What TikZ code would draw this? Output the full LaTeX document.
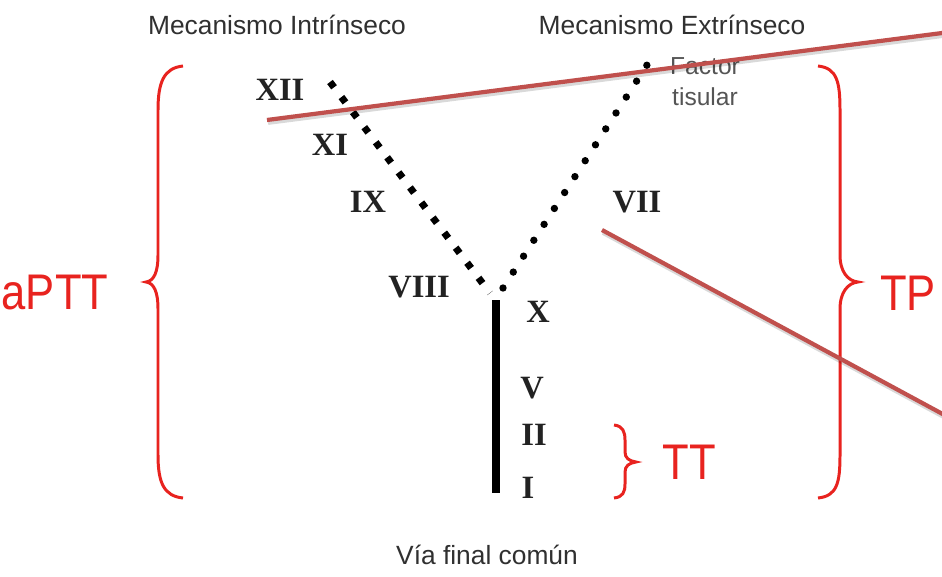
\documentclass[tikz,border=0pt]{standalone}
\usepackage{fontspec}
\setmainfont{Liberation Serif}
\setsansfont{Liberation Sans}
\definecolor{ink}{HTML}{222222}
\definecolor{head}{HTML}{303030}
\definecolor{tisu}{HTML}{555555}
\definecolor{lab}{HTML}{E8231F}
\definecolor{cut}{HTML}{C0504D}

\begin{document}
\begin{tikzpicture}[x=0.02cm,y=-0.02cm,
  hd/.style={font=\sffamily\fontsize{15}{18}\selectfont,text=head,inner sep=0pt},
  fac/.style={font=\sffamily\fontsize{14}{17.5}\selectfont,text=tisu,align=center,inner sep=0pt},
  num/.style={font=\bfseries\fontsize{18.5}{20}\selectfont,text=ink,inner sep=0pt},
  big/.style={font=\sffamily\fontsize{28.5}{30}\selectfont,text=lab,inner sep=0pt,xscale=0.87},
  brace/.style={draw=lab,line width=1.7pt},
  intrline/.style={line width=4pt,dash pattern=on 3.8pt off 6.96pt,black},
  extrline/.style={line width=4.2pt,line cap=round,dash pattern=on 0pt off 10.78pt,black},
  common/.style={line width=4.2pt,black},
  cutline/.style={cut,line width=2.4pt,
    preaction={draw=black,opacity=0.15,line width=3pt,transform canvas={shift={(0.6pt,-1.3pt)}}}}]
  \fill[white] (0,0) rectangle (942,577);
  \useasboundingbox (0,0) rectangle (942,577);

  % ===== headings =====
  \node[hd] (intr) at (277,25) {Mecanismo Intrínseco};
  \node[hd] (extr) at (672,25) {Mecanismo Extrínseco};
  \node[fac] (tf) at (705,82) {Factor\\tisular};
  \node[hd] (via) at (487,555) {Vía final común};

  % ===== factors =====
  \node[num] (f12) at (280,90) {XII};
  \node[num] (f11) at (330,145) {XI};
  \node[num] (f9) at (368,202) {IX};
  \node[num] (f8) at (419,287) {VIII};
  \node[num] (f7) at (637,202) {VII};
  \node[num] (f10) at (538,312) {X};
  \node[num] (f5) at (532,388) {V};
  \node[num] (f2) at (534,435) {II};
  \node[num] (f1) at (528,488) {I};

  % ===== cascade =====
  \coordinate (top12) at (330,82);
  \coordinate (jl) at (490,293);
  \coordinate (jr) at (503,288);
  \coordinate (topfac) at (647,65);
  \coordinate (s0) at (496,300);
  \coordinate (s1) at (496,493);
  \draw[intrline] (top12) -- (jl);
  \draw[extrline] (jr) -- (topfac);
  \draw[common] (s0) -- (s1);

  % ===== braces =====
  \draw[brace] (183,66) .. controls (164,68) and (158,82) .. (158,110) -- (158,255) .. controls (158,272) and (154,281) .. (146,282) .. controls (154,283) and (158,292) .. (158,309) -- (158,455) .. controls (158,483) and (164,496) .. (183,498);
  \node[big] (aptt) at (55,293) {aPTT};
  \draw[brace] (818,66) .. controls (837,68) and (840,82) .. (840,110) -- (840,255) .. controls (840,272) and (848,281) .. (858,282) .. controls (848,283) and (840,292) .. (840,309) -- (840,455) .. controls (840,483) and (837,496) .. (818,498);
  \node[big] (tp) at (908,293) {TP};
  \draw[brace] (614,425) .. controls (623,426) and (625,432) .. (625,440) -- (625,452) .. controls (625,458) and (629,461) .. (636,462) .. controls (629,463) and (625,466) .. (625,472) -- (625,484) .. controls (625,492) and (623,497) .. (614,498);
  \node[big] (tt) at (689,462) {TT};

  % ===== red cuts =====
  \coordinate (c1) at (267,120);
  \coordinate (c2) at (950,32);
  \coordinate (c3) at (602,230);
  \coordinate (c4) at (950,418);
  \draw[cutline] (c1) -- (c2);
  \draw[cutline] (c3) -- (c4);
\end{tikzpicture}
\end{document}
